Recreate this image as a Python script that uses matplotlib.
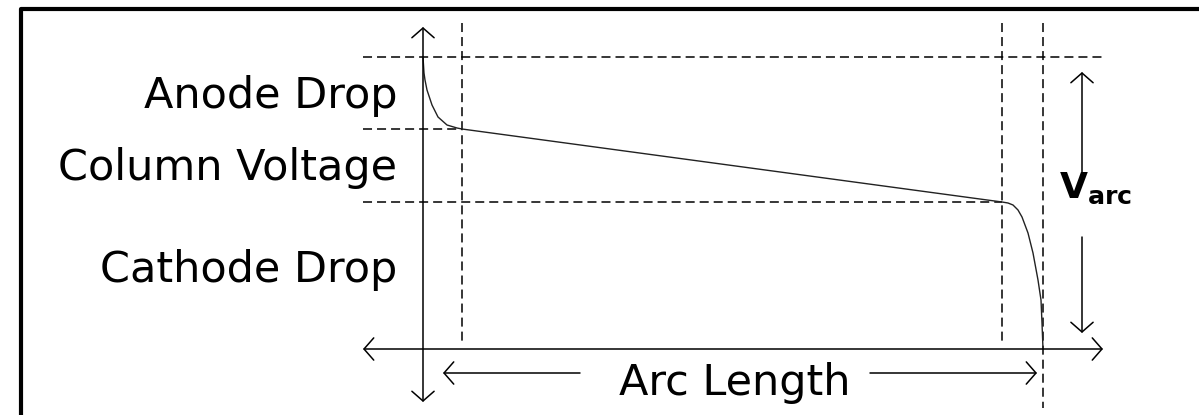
import matplotlib.pyplot as plt

plt.rcParams['font.family'] = ['DejaVu Sans']
plt.rcParams['lines.scale_dashes'] = False

# voltage profile along the arc (arc length units, voltage units)
arc_x = [0.0, 0.1, 0.2, 0.4, 0.9, 1.5, 2.4, 3.4, 3.9,
         57.9, 58.5, 59.0, 59.5, 59.9, 60.5, 61.0, 61.5, 61.8, 61.9, 62.0]
arc_v = [29.2, 27.6, 26.9, 25.9, 24.4, 23.2, 22.4, 22.1, 22.0,
         14.7, 14.6, 14.4, 13.9, 13.2, 11.6, 9.6, 6.9, 4.9, 2.6, 0.0]

# anode zone end, cathode zone start, arc end
zone_x = [3.9, 57.9, 62.0]
# arc voltage, column top, cathode drop top
level_v = [29.2, 22.0, 14.7]
zone_labels = ['Anode Drop', 'Column Voltage', 'Cathode Drop']

# layout (same units as the data)
label_y = [24.1, 16.9, 6.7]
label_x = -2.6
x_lo, x_hi = -6.0, 68.0
y_lo, y_top = -5.3, 32.2
guide_top = 32.6

fig = plt.figure(figsize=(11.99, 4.15), dpi=100)
ax = fig.add_axes([0, 0, 1, 1])
ax.set_xlim(-42.3, 77.6)
ax.set_ylim(-6.6, 34.9)
ax.axis('off')

lw = 1.1
dash = (0, (6.5, 3.6))
arrow_style = '->,head_length=0.35,head_width=0.4'


def arrow(start, end, style=arrow_style):
    ax.annotate('', xy=end, xytext=start,
                arrowprops=dict(arrowstyle=style, lw=lw, color='black',
                                shrinkA=0, shrinkB=0, mutation_scale=20))


# frame (left and top only)
ax.plot([0.0175, 0.0175, 1.0], [0.0, 0.978, 0.978], color='black', lw=3,
        transform=ax.transAxes, clip_on=False, solid_capstyle='projecting')

# axes with arrows on both ends
arrow((0, y_lo), (0, y_top), '<->,head_length=0.35,head_width=0.4')
arrow((x_lo, 0), (x_hi, 0), '<->,head_length=0.35,head_width=0.4')

# dashed guide lines
ax.plot([x_lo, x_hi - 0.1], [level_v[0]] * 2, color='black', lw=lw, linestyle=dash)
ax.plot([x_lo, zone_x[0]], [level_v[1]] * 2, color='black', lw=lw, linestyle=dash)
ax.plot([x_lo, zone_x[1]], [level_v[2]] * 2, color='black', lw=lw, linestyle=dash)
ax.plot([zone_x[0]] * 2, [guide_top, 0.6], color='black', lw=lw, linestyle=dash)
ax.plot([zone_x[1]] * 2, [guide_top, 0.6], color='black', lw=lw, linestyle=dash)
ax.plot([zone_x[2]] * 2, [guide_top, -5.9], color='black', lw=lw, linestyle=dash)

# voltage curve
ax.plot(arc_x, arc_v, color='#222222', lw=1.0)

# zone labels
for lab, ly in zip(zone_labels, label_y):
    ax.text(label_x, ly, lab, ha='right', va='baseline', fontsize=31)

# V_arc double arrow with label
varc_x = 65.9
arrow((varc_x, 17.6), (varc_x, 27.7))
arrow((varc_x, 11.2), (varc_x, 1.6))
ax.text(63.6, 15.1, r'$\mathbf{V}_{\mathbf{arc}}$', ha='left', va='baseline',
        fontsize=26)

# arc length arrows with label
ax.text(31.2, -4.6, 'Arc Length', ha='center', va='baseline', fontsize=31)
arrow((15.7, -2.4), (2.0, -2.4))
arrow((44.7, -2.4), (61.4, -2.4))

fig.savefig('out.png', dpi=100)
